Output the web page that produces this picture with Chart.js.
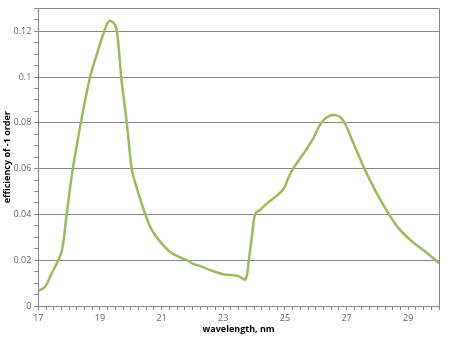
<!DOCTYPE html>
<html><head><meta charset="utf-8">
<script src="https://cdn.jsdelivr.net/npm/chart.js@4/dist/chart.umd.min.js"></script>
<style>html,body{margin:0;padding:0;background:#fff}#w{width:450px;height:338px}</style>
</head><body><div id="w"><canvas id="c" width="450" height="338"></canvas></div>
<script>
const wavelength = [17.0,17.22,17.43,17.65,17.78,17.92,18.12,18.38,18.68,18.9,19.14,19.3,19.5,19.6,19.69,19.87,20.03,20.14,20.3,20.5,20.69,20.96,21.28,21.6,21.82,22.04,22.26,22.58,23.01,23.23,23.5,23.72,23.83,23.94,24.04,24.2,24.47,24.75,24.96,25.1,25.24,25.55,25.88,26.21,26.55,26.86,27.19,27.58,27.95,28.38,28.7,29.14,29.57,30.0];
const efficiency = [0.0066,0.0084,0.0142,0.020,0.025,0.040,0.060,0.080,0.100,0.110,0.120,0.1245,0.1225,0.114,0.100,0.080,0.060,0.054,0.047,0.039,0.033,0.028,0.0236,0.0212,0.020,0.0183,0.0174,0.0157,0.0138,0.0136,0.013,0.0117,0.020,0.0316,0.0403,0.042,0.0454,0.0483,0.0512,0.0555,0.0595,0.0655,0.0722,0.0805,0.0834,0.0816,0.0722,0.060,0.050,0.040,0.0338,0.028,0.0236,0.0188];
const xTickLabels = [17,19,21,23,25,27,29];
const yTickLabels = [0,0.02,0.04,0.06,0.08,0.1,0.12];
const xTitle = 'wavelength, nm';
const yTitle = 'efficiency of -1 order';

const near = (v, arr) => arr.some(a => Math.abs(a - v) < 1e-9);
const gridCol = '#868686';
const labelCol = '#666666';
const font = {family: 'Open Sans', size: 9};

new Chart(document.getElementById('c'), {
  type: 'line',
  data: {
    datasets: [{
      data: wavelength.map((x, i) => ({x, y: efficiency[i]})),
      borderColor: '#9BBB59',
      borderWidth: 2.5,
      pointRadius: 0,
      fill: false,
      tension: 0.35
    }]
  },
  options: {
    responsive: false,
    animation: false,
    events: [],
    layout: {padding: {top: 7, right: 11, left: 0, bottom: 0}},
    plugins: {legend: {display: false}, tooltip: {enabled: false}},
    scales: {
      x: {
        type: 'linear', min: 17, max: 30,
        afterFit: s => { s.height = 32; },
        border: {color: gridCol, width: 1},
        grid: {
          color: c => (c.tick && Math.abs(c.tick.value - 30) < 1e-9) ? gridCol : 'rgba(0,0,0,0)',
          tickColor: gridCol, tickLength: 4, drawOnChartArea: true
        },
        ticks: {
          stepSize: 0.25, maxTicksLimit: 1000, autoSkip: false, maxRotation: 0,
          color: labelCol, font, padding: 3,
          callback: v => near(v, xTickLabels) ? String(v) : ''
        },
        title: {display: true, text: xTitle, color: '#000', font: {family: 'Open Sans', size: 9, weight: 'bold'}, padding: {top: 0, bottom: 3}}
      },
      y: {
        type: 'linear', min: 0, max: 0.13,
        afterFit: s => { s.width = 38.3; },
        border: {color: gridCol, width: 1},
        grid: {
          color: c => (c.tick && (near(c.tick.value, yTickLabels) || Math.abs(c.tick.value - 0.13) < 1e-9)) ? gridCol : 'rgba(0,0,0,0)',
          tickColor: gridCol, tickLength: 4
        },
        ticks: {
          stepSize: 0.005, maxTicksLimit: 1000, autoSkip: false,
          color: labelCol, font, padding: 3,
          callback: v => near(v, yTickLabels) ? String(Math.round(v * 1000) / 1000) : ''
        },
        title: {display: true, text: yTitle, color: '#000', font: {family: 'Open Sans', size: 9, weight: 'bold'}, padding: {top: 2, bottom: 0}}
      }
    }
  }
});
</script></body></html>
